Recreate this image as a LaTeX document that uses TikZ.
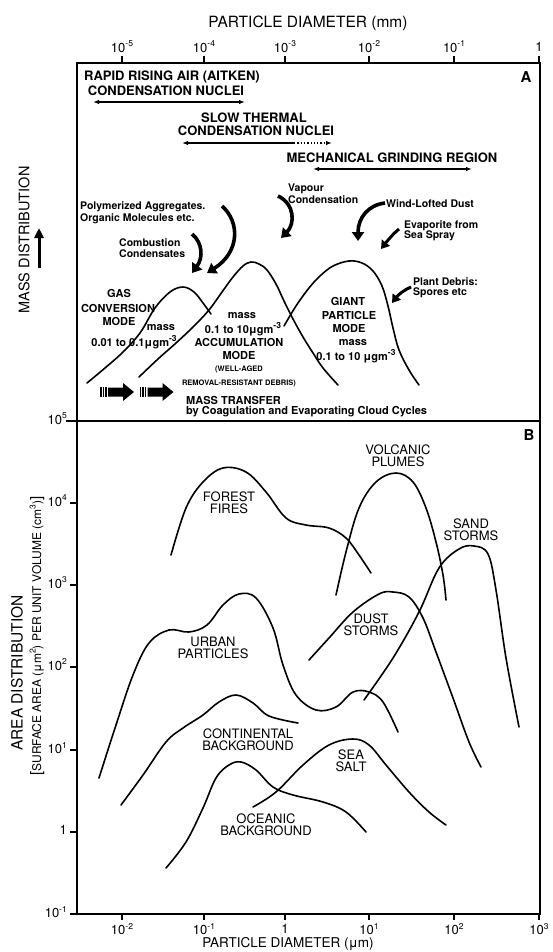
\documentclass[tikz,border=0pt]{standalone}
\usepackage{fontspec}
\setmainfont{TeX Gyre Heros}
\usetikzlibrary{arrows.meta}
\newcommand{\fsz}[1]{\fontsize{#1}{#1}\selectfont}
\newcommand{\ep}[1]{\raisebox{0.45em}{\fontsize{8.5}{8.5}\selectfont #1}}
\newcommand{\epb}[1]{\raisebox{0.42em}{\fontsize{8.5}{8.5}\selectfont\bfseries #1}}
\begin{document}
\begin{tikzpicture}[x=1pt,y=-1pt,
  capA/.style={font=\bfseries\fsz{13}, inner sep=0pt, align=center},
  modeA/.style={font=\bfseries\fsz{11}, inner sep=0pt, align=center},
  tinyA/.style={font=\bfseries\fsz{7.5}, inner sep=0pt},
  noteA/.style={font=\bfseries\fsz{10.5}, inner sep=0pt, anchor=west},
  labB/.style={font=\fsz{13}, inner sep=0pt, align=center},
  tickl/.style={font=\fsz{13}, inner sep=0pt},
  curve/.style={line width=1.6pt, line cap=round, line join=round},
  frameline/.style={line width=1.6pt},
  rangearrow/.style={line width=1.3pt, {Latex[length=6pt,width=4.5pt]}-{Latex[length=6pt,width=4.5pt]}},
  fatarrow/.style={line width=3.6pt, -{Triangle[length=9pt,width=12pt]}},
  midarrow/.style={line width=3pt, -{Triangle[length=8pt,width=10pt]}}
]
\useasboundingbox (0,0) rectangle (552,952);
\fill[white] (0,0) rectangle (552,952);

% ---------- frame ----------
\draw[frameline] (77,63) rectangle (540,914);
\draw[frameline] (66,421) -- (540,421);

% top axis
\foreach \xx/\lab [count=\i] in {122/10\ep{-5},204/10\ep{-4},285/10\ep{-3},369/10\ep{-2},454/10\ep{-1},539/1}{
  \draw[line width=1.3pt] (\xx,63) -- (\xx,56);
  \node[tickl] (tt\i) at (\xx,47) {\lab};
}
\node[font=\fsz{15.5}, inner sep=0pt] (toptitle) at (308,23) {PARTICLE DIAMETER (mm)};

% bottom axis
\foreach \xx/\lab [count=\i] in {122/10\ep{-2},204/10\ep{-1},285/1,369/10\ep{1},454/10\ep{2},539/10\ep{3}}{
  \draw[line width=1.3pt] (\xx,914) -- (\xx,920);
  \node[tickl] (bt\i) at (\xx,929) {\lab};
}
\node[font=\fsz{13.5}, inner sep=0pt] (bottitle) at (288,944) {PARTICLE DIAMETER (μm)};

% left axis panel B
\foreach \yy/\lab [count=\i] in {503/10\ep{4},585/10\ep{3},667/10\ep{2},750/10\ep{1},832/1,914/10\ep{-1}}{
  \draw[line width=1.3pt] (70,\yy) -- (77,\yy);
  \node[tickl, anchor=east] (lt\i) at (67,\yy-2) {\lab};
}
\node[tickl, anchor=east] (lt0) at (67,419) {10\ep{5}};

\node[font=\fsz{15.5}, rotate=90, inner sep=0pt] (areadist) at (17,673) {AREA DISTRIBUTION};
\node[font=\fsz{12}, rotate=90, inner sep=0pt] (surfarea) at (37,636) {{\fsz{15}[}SURFACE AREA (μm\ep{2}) PER UNIT VOLUME (cm\ep{3}){\fsz{15}]}};

\node[font=\fsz{14.5}, rotate=90, inner sep=0pt] (massdist) at (24,240) {MASS DISTRIBUTION};
\coordinate (mdA) at (39,268);
\coordinate (mdB) at (39,228);
\draw[line width=3pt, -{Triangle[length=10pt,width=9pt]}] (mdA) -- (mdB);

% ---------- Panel A ----------
\node[font=\bfseries\fsz{15}, inner sep=0pt] (labA) at (526,77) {A};

\node[capA] (rapid) at (172,77) {RAPID RISING AIR (AITKEN)};
\node[capA] (rapid2) at (166,91) {CONDENSATION NUCLEI};
\coordinate (ra1) at (93,102); \coordinate (ra2) at (245,102);
\draw[rangearrow] (ra1) -- (ra2);

\node[capA] (slow) at (254,118) {SLOW THERMAL};
\node[capA] (slow2) at (256,131) {CONDENSATION NUCLEI};
\coordinate (sa1) at (182,143); \coordinate (sa2) at (294,143); \coordinate (sa3) at (332,143);
\draw[line width=1.3pt, {Latex[length=6pt,width=4.5pt]}-] (sa1) -- (sa2);
\draw[line width=1.3pt, dotted, -{Latex[length=6pt,width=4.5pt]}] (sa2) -- (sa3);

\node[capA] (mech) at (392,158) {MECHANICAL GRINDING REGION};
\coordinate (ma1) at (313,169); \coordinate (ma2) at (472,169);
\draw[rangearrow] (ma1) -- (ma2);

% annotations
\node[noteA] (vap1) at (288,189) {Vapour};
\node[noteA] (vap2) at (288,200) {Condensation};
\node[noteA] (poly1) at (80,207) {Polymerized Aggregates.};
\node[noteA] (poly2) at (80,219) {Organic Molecules etc.};
\node[noteA] (comb1) at (119,243) {Combustion};
\node[noteA] (comb2) at (119,254) {Condensates};
\node[noteA] (wind) at (386,204) {Wind-Lofted Dust};
\node[noteA] (evap1) at (404,226) {Evaporite from};
\node[noteA] (evap2) at (404,236) {Sea Spray};
\node[noteA] (plant1) at (413,282) {Plant Debris:};
\node[noteA] (plant2) at (413,293) {Spores etc};

% curved arrows
\draw[fatarrow] (222,206) .. controls (240,222) and (240,252) .. (207,273);
\draw[fatarrow] (192,234) .. controls (203,243) and (203,258) .. (192,273);
\draw[fatarrow] (278,196) .. controls (295,204) and (295,224) .. (281,238);
\draw[fatarrow] (385,203) .. controls (368,205) and (358,218) .. (358,241);
\draw[midarrow] (399,229) .. controls (393,234) and (388,240) .. (381,249);
\draw[midarrow] (411,287) .. controls (404,290) and (398,295) .. (392,303);

% mode curves
\draw[curve] plot[smooth, tension=0.6] coordinates {(87,383) (105,368) (123,352) (140,333) (155,308) (170,292) (183,287) (194,292) (203,303) (211,314)};
\draw[curve] plot[smooth, tension=0.6] coordinates {(139,377) (158,359) (176,343) (193,327) (209,310) (222,292) (233,277) (243,266) (251,262) (259,264) (267,270) (276,284) (284,301) (293,319) (303,337) (313,353) (323,368) (338,385)};
\draw[curve] plot[smooth, tension=0.6] coordinates {(284,326) (296,306) (309,288) (320,276) (333,266) (349,261) (362,263) (373,271) (382,286) (388,306) (393,328) (399,350) (409,370) (419,385)};

% mode labels
\node[modeA] (gas1) at (119,293) {GAS};
\node[modeA] (gas2) at (118,308) {CONVERSION};
\node[modeA] (gas3) at (119,321) {MODE};
\node[modeA] (gasm) at (161,328) {mass};
\node[modeA] (gasr) at (134,342) {0.01 to 0.1μgm\epb{-3}};

\node[modeA] (acm) at (242,316) {mass};
\node[modeA] (acr) at (243,329) {0.1 to 10μgm\epb{-3}};
\node[modeA] (ac1) at (239,342) {ACCUMULATION};
\node[modeA] (ac2) at (239,355) {MODE};
\node[tinyA] (ac3) at (239,369) {(WELL-AGED};
\node[tinyA] (ac4) at (239,383) {REMOVAL-RESISTANT DEBRIS)};

\node[modeA] (gi1) at (348,301) {GIANT};
\node[modeA] (gi2) at (349,315) {PARTICLE};
\node[modeA] (gi3) at (349,328) {MODE};
\node[modeA] (gim) at (353,343) {mass};
\node[modeA] (gir) at (356,356) {0.1 to 10 μgm\epb{-3}};

% mass transfer arrows
\foreach \dx in {0,39.5}{
  \begin{scope}[xshift=\dx pt]
    \fill (100,387) rectangle (101.6,397);
    \fill (102.6,387) rectangle (104.2,397);
    \fill (105.2,387) rectangle (106.8,397);
    \fill (108,387.5) -- (123,387.5) -- (123,383) -- (134,392) -- (123,401) -- (123,396.5) -- (108,396.5) -- cycle;
  \end{scope}
}
\node[noteA, font=\bfseries\fsz{11}] (mt1) at (186,400) {MASS TRANSFER};
\node[noteA, font=\bfseries\fsz{11}] (mt2) at (186,412) {by Coagulation and Evaporating Cloud Cycles};

% ---------- Panel B ----------
\node[font=\bfseries\fsz{15}, inner sep=0pt] (labB) at (529,435) {B};

% forest fires
\draw[curve] plot[smooth, tension=0.6] coordinates {(171,555) (186,508) (203,482) (223,468) (246,472) (266,492) (286,518) (306,525) (329,528) (346,538) (359,555) (371,573)};
% volcanic plumes
\draw[curve] plot[smooth, tension=0.6] coordinates {(336,595) (346,552) (359,508) (376,482) (396,473) (413,482) (426,508) (436,542) (443,575) (446,600)};
% sand storms
\draw[curve] plot[smooth, tension=0.6] coordinates {(364,700) (393,658) (419,612) (439,568) (459,549) (474,546) (488,554) (496,590) (506,658) (519,727)};
% dust storms
\draw[curve] plot[smooth, tension=0.6] coordinates {(309,660) (329,638) (353,612) (379,594) (393,592) (409,597) (423,618) (436,652) (453,698) (469,742) (481,767)};
% urban particles
\draw[curve] plot[smooth, tension=0.6] coordinates {(99,778) (116,725) (133,675) (149,643) (169,630) (189,632) (207,625) (223,605) (239,594) (256,598) (273,628) (283,665) (296,695) (316,710) (336,707) (353,692) (369,692) (383,702) (398,732)};
% continental background
\draw[curve] plot[smooth, tension=0.6] coordinates {(121,805) (143,775) (166,742) (183,728) (203,715) (219,702) (236,695) (253,703) (269,716) (298,723)};
% oceanic background
\draw[curve] plot[smooth, tension=0.6] coordinates {(166,868) (186,842) (203,808) (216,778) (229,765) (241,762) (256,770) (273,787) (293,795) (323,802) (346,812) (366,832)};
% sea salt
\draw[curve] plot[smooth, tension=0.6] coordinates {(253,807) (276,792) (303,765) (329,745) (353,739) (369,745) (386,765) (409,792) (429,812) (446,825)};

\node[labB] (ff) at (229,503) {FOREST\\[-1.5pt]FIRES};
\node[labB] (vp) at (398,456) {VOLCANIC\\[-1.5pt]PLUMES};
\node[labB] (ss) at (471,530) {SAND\\[-1.5pt]STORMS};
\node[labB] (ds) at (371,625) {DUST\\[-1.5pt]STORMS};
\node[labB] (up) at (213,648) {URBAN\\[-1.5pt]PARTICLES};
\node[labB] (cb) at (248,740) {CONTINENTAL\\[-1.5pt]BACKGROUND};
\node[labB] (sea) at (351,761) {SEA\\[-1.5pt]SALT};
\node[labB] (ob) at (266,825) {OCEANIC\\[-1.5pt]BACKGROUND};
\end{tikzpicture}
\end{document}
